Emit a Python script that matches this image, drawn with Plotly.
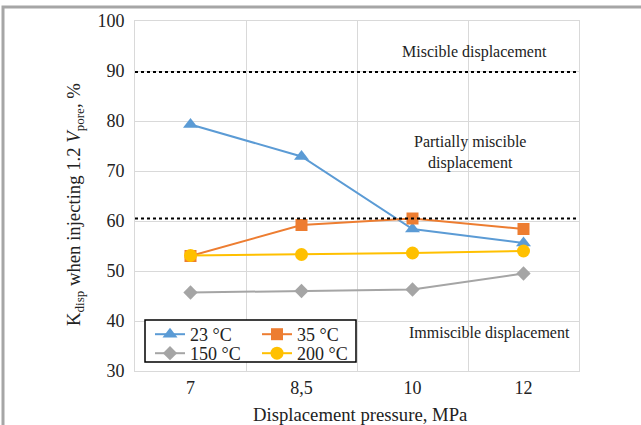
import plotly.graph_objects as go

pressures = ["7", "8,5", "10", "12"]
k_23 = [79.3, 72.9, 58.4, 55.6]
k_35 = [53.0, 59.2, 60.5, 58.4]
k_150 = [45.7, 46.0, 46.3, 49.5]
k_200 = [53.1, 53.3, 53.6, 54.0]
miscible_limit = 89.8
partial_limit = 60.5

FONT = "Liberation Serif, Times New Roman, serif"
TXT = "#222222"

fig = go.Figure()
series = [
    ("23 °C", k_23, "#5B9BD5", "triangle-up", 13, "legend"),
    ("35 °C", k_35, "#ED7D31", "square", 12, "legend"),
    ("150 °C", k_150, "#A5A5A5", "diamond", 11, "legend2"),
    ("200 °C", k_200, "#FFC000", "circle", 13, "legend2"),
]
for name, vals, color, sym, size, lg in series:
    fig.add_trace(go.Scatter(
        x=pressures, y=vals, name=name, mode="lines+markers",
        line=dict(color=color, width=2),
        marker=dict(symbol=sym, size=size, color=color),
        legend=lg,
    ))

shapes = []
for yv in (miscible_limit, partial_limit):
    shapes.append(dict(type="line", xref="paper", yref="y", x0=0, x1=1,
                       y0=yv, y1=yv, line=dict(color="black", width=2.2, dash="dot")))
# legend frame
shapes.append(dict(type="rect", xref="paper", yref="paper",
                   x0=(145 - 135) / 444, x1=(356 - 135) / 444,
                   y0=(371 - 362) / 350, y1=(371 - 320) / 350,
                   line=dict(color="black", width=1.5), fillcolor="white", layer="above"))
# outer frame
shapes.append(dict(type="rect", xref="paper", yref="paper",
                   x0=(3 - 135) / 444, x1=(650 - 135) / 444,
                   y0=(371 - 440) / 350, y1=(371 - 7) / 350,
                   line=dict(color="#a6a6a6", width=3)))


def px_ann(text, cx, cy, size=16, **kw):
    return dict(text=text, x=(cx - 135) / 444, y=(371 - cy) / 350, xref="paper", yref="paper",
                xanchor="center", yanchor="middle", showarrow=False,
                font=dict(family=FONT, size=size, color=TXT), **kw)


annotations = [
    px_ann("Miscible displacement", 474, 52),
    px_ann("Partially miscible<br>displacement", 470, 152),
    px_ann("Immiscible displacement", 489, 333),
    px_ann("K<sub>disp</sub> when injecting 1.2 <i>V</i><sub>pore</sub>, %", 75, 205, size=18.7,
           textangle=-90),
    px_ann("Displacement pressure, MPa", 360, 414, size=18.7),
]

legfont = dict(family=FONT, size=18, color=TXT)
fig.update_layout(
    width=641, height=425,
    margin=dict(l=135, r=62, t=21, b=54, autoexpand=False),
    paper_bgcolor="white", plot_bgcolor="white",
    font=dict(family=FONT, size=18, color=TXT),
    shapes=shapes, annotations=annotations,
    showlegend=True,
    legend=dict(orientation="h", x=(150 - 135) / 444, y=(371 - 316) / 350,
                xanchor="left", yanchor="top", entrywidth=62, entrywidthmode="pixels",
                bgcolor="rgba(0,0,0,0)", font=legfont, itemwidth=30, tracegroupgap=0),
    legend2=dict(orientation="h", x=(150 - 135) / 444, y=(371 - 335) / 350,
                 xanchor="left", yanchor="top", entrywidth=62, entrywidthmode="pixels",
                 bgcolor="rgba(0,0,0,0)", font=legfont, itemwidth=30, tracegroupgap=0),
    xaxis=dict(type="category", tickson="boundaries", ticks="", showgrid=True, automargin=False,
               range=[-0.5, 3.5],
               gridcolor="#d9d9d9", gridwidth=1, showline=True, linecolor="#d9d9d9", mirror=True,
               tickfont=dict(family=FONT, size=18, color=TXT)),
    yaxis=dict(range=[30, 100], dtick=10, showgrid=True, gridcolor="#d9d9d9", automargin=False,
               showline=True, linecolor="#d9d9d9", mirror=True, ticks="", zeroline=False,
               ticklabelstandoff=6, tickfont=dict(family=FONT, size=18, color=TXT)),
)

fig.write_html("out.html", config={"displayModeBar": False},
               post_script="document.body.style.margin='0';document.body.style.padding='0';"
                           "document.body.style.overflow='hidden';")
